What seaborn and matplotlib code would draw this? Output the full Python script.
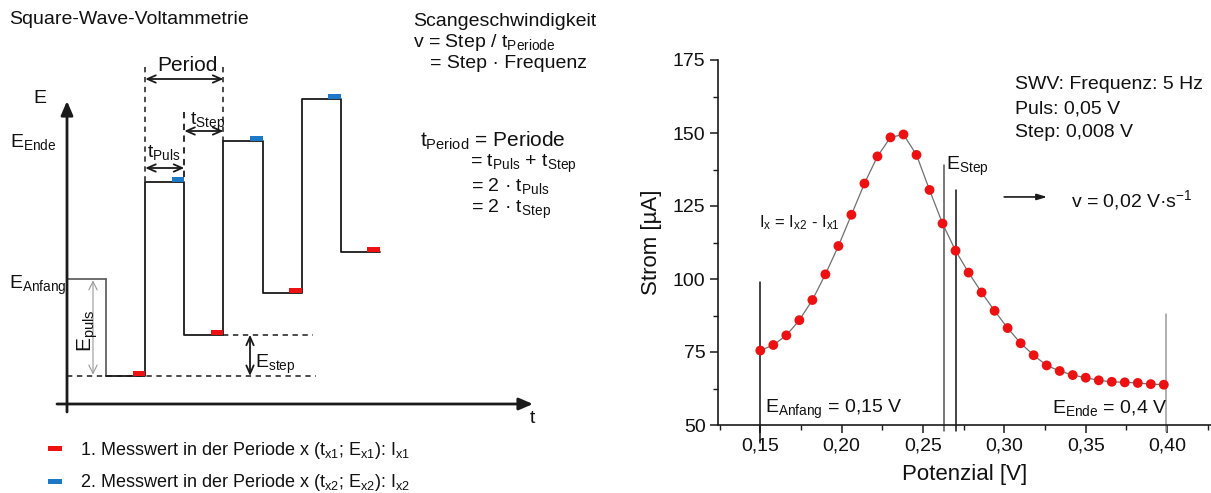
import numpy as np
import pandas as pd
import matplotlib
matplotlib.use("Agg")
import matplotlib.pyplot as plt
from matplotlib.patches import Rectangle
from matplotlib.ticker import MultipleLocator, FixedLocator
import seaborn as sns

# ---------------- right panel: SWV voltammogram ----------------
potential_V = [0.150, 0.158, 0.166, 0.174, 0.182, 0.190, 0.198, 0.206,
               0.214, 0.222, 0.230, 0.238, 0.246, 0.254, 0.262, 0.270,
               0.278, 0.286, 0.294, 0.302, 0.310, 0.318, 0.326, 0.334,
               0.342, 0.350, 0.358, 0.366, 0.374, 0.382, 0.390, 0.398]
current_uA = [75.5, 77.4, 80.7, 85.9, 92.8, 101.6, 111.3, 122.0,
              132.7, 142.0, 148.5, 149.5, 142.5, 130.5, 119.0, 109.7,
              102.2, 95.4, 89.1, 83.2, 78.0, 73.9, 70.4, 68.5,
              67.1, 66.2, 65.3, 64.8, 64.6, 64.4, 64.0, 63.8]
guide_x_V = [0.150, 0.2632, 0.2703, 0.3995]
guide_top_uA = [99.0, 139.0, 130.5, 88.0]
guide_bottom_uA = [44.0, 48.0, 48.0, 48.0]
guide_colors = ['#111111', '#555555', '#111111', '#9a9a9a']
x_ticks = [0.15, 0.20, 0.25, 0.30, 0.35, 0.40]
x_tick_labels = ["0,15", "0,20", "0,25", "0,30", "0,35", "0,40"]
y_ticks = [50, 75, 100, 125, 150, 175]

# ---------------- left panel: schematic square wave ----------------
# time in units of t_Puls, potential in arbitrary units
t_edges = [0, 1, 2, 3, 4, 5, 6, 7, 8]
E_anfang = 3.35
E_low = [1.0, 2.0, 3.0, 4.0]
E_high = [5.7, 6.7, 7.7]

RED = '#ee1111'
BLUE = '#1e78c8'

W, H = 1211, 493
sns.set_theme(style="ticks")
plt.rcParams['font.family'] = ['Liberation Sans', 'DejaVu Sans']
plt.rcParams['mathtext.default'] = 'regular'
plt.rcParams['axes.unicode_minus'] = True

fig = plt.figure(figsize=(W / 100, H / 100), dpi=100)


def fx(px):
    return px / W


def fy(py):
    return 1 - py / H


def T(px):
    return (px - 67) / 39.1


def Ev(py):
    return 1 + (376 - py) / 41.3


def ftext(px, py, s, size=14, **kw):
    kw.setdefault('va', 'baseline')
    kw.setdefault('ha', 'left')
    fig.text(fx(px), fy(py), s, fontsize=size, color='#111111', **kw)


# ---------- left schematic ----------
axl = fig.add_axes([0, 0, 1, 1])
axl.set_xlim(T(0), T(W))
axl.set_ylim(Ev(H), Ev(0))
axl.axis('off')

levels = [E_anfang]
for i, lo in enumerate(E_low):
    levels.append(lo)
    if i < len(E_high):
        levels.append(E_high[i])

dash = (0, (3.5, 3))
# baseline dashed guides
axl.plot([t_edges[0], T(316)], [E_low[0]] * 2, ls=dash, color='k', lw=1.1)
axl.plot([t_edges[4], T(313)], [E_low[1]] * 2, ls=dash, color='k', lw=1.1)
# period guides
axl.plot([t_edges[2]] * 2, [Ev(67), E_high[0]], ls=dash, color='k', lw=1.1)
axl.plot([t_edges[4]] * 2, [Ev(67), E_high[1]], ls=dash, color='k', lw=1.1)
axl.plot([t_edges[3]] * 2, [Ev(112), E_high[0]], ls=dash, color='k', lw=1.3)

# waveform (start segment in grey, rest black)
axl.plot(t_edges[:2], [levels[0]] * 2, color='#555555', lw=1.2)
axl.plot([t_edges[1]] * 2, [levels[0], levels[1]], color='#555555', lw=1.2)
axl.plot(t_edges[1:], levels[1:] + [levels[-1]], drawstyle='steps-post',
         color='k', lw=1.3)

# measurement markers
mw, mh = 0.32, 0.12
for i in range(1, len(levels)):
    c = RED if i % 2 == 1 else BLUE
    axl.add_patch(Rectangle((t_edges[i + 1] - mw, levels[i]), mw, mh,
                            color=c, lw=0, zorder=4))

# axes arrows
arr = dict(arrowstyle='-|>,head_length=0.7,head_width=0.3', lw=2.0, color='k',
           shrinkA=0, shrinkB=0)
axl.annotate('', xy=(0, Ev(101)), xytext=(0, Ev(412)), arrowprops=arr)
axl.annotate('', xy=(T(533), Ev(404)), xytext=(T(57), Ev(404)), arrowprops=arr)

# dimension arrows
darr = dict(arrowstyle='<->,head_length=0.5,head_width=0.22', lw=1.3, color='k',
            shrinkA=0, shrinkB=0)
axl.annotate('', xy=(t_edges[2], Ev(79)), xytext=(t_edges[4], Ev(79)), arrowprops=darr)
axl.annotate('', xy=(t_edges[2], Ev(168)), xytext=(t_edges[3], Ev(168)), arrowprops=darr)
axl.annotate('', xy=(t_edges[3], Ev(131)), xytext=(t_edges[4], Ev(131)), arrowprops=darr)
axl.annotate('', xy=(T(250), E_low[0]), xytext=(T(250), E_low[1]), arrowprops=darr)
garr = dict(arrowstyle='<->,head_length=0.5,head_width=0.25', lw=0.8, color='#999999',
            shrinkA=1, shrinkB=1)
axl.annotate('', xy=(T(93), E_low[0]), xytext=(T(93), E_anfang), arrowprops=garr)

# legend markers
axl.add_patch(Rectangle((T(48), Ev(451)), T(62) - T(48), Ev(446) - Ev(451),
                        color=RED, lw=0))
axl.add_patch(Rectangle((T(48), Ev(484)), T(62) - T(48), Ev(479) - Ev(484),
                        color=BLUE, lw=0))

# left texts
ftext(9, 24, 'Square-Wave-Voltammetrie')
ftext(33, 103, 'E')
ftext(10, 147, 'E$_{Ende}$')
ftext(9, 289, 'E$_{Anfang}$')
fig.text(fx(92), fy(352), 'E$_{puls}$', fontsize=15, rotation=90,
         rotation_mode='anchor', ha='left', va='baseline', color='#111111')
ftext(255, 368, 'E$_{step}$')
ftext(157, 71, 'Period', size=15)
ftext(147, 157, 't$_{Puls}$')
ftext(190, 125, 't$_{Step}$')
ftext(530, 423, 't')

ftext(413, 26, 'Scangeschwindigkeit')
ftext(413, 47, 'v = Step / t$_{Periode}$')
ftext(430, 68, '= Step · Frequenz')
ftext(420, 147, 't$_{Period}$ = Periode', size=15)
ftext(470, 167, '= t$_{Puls}$ + t$_{Step}$')
ftext(471, 191, '= 2 · t$_{Puls}$')
ftext(471, 213, '= 2 · t$_{Step}$')

ftext(80, 455, '1. Messwert in der Periode x (t$_{x1}$; E$_{x1}$): I$_{x1}$', size=13)
ftext(80, 487, '2. Messwert in der Periode x (t$_{x2}$; E$_{x2}$): I$_{x2}$', size=13)

# ---------- right chart ----------
ax = fig.add_axes([fx(718), fy(425), fx(1211) - fx(718), fy(60) - fy(425)])
ax.patch.set_alpha(0)
df = pd.DataFrame({'Potenzial': potential_V, 'Strom': current_uA})
sns.lineplot(data=df, x='Potenzial', y='Strom', ax=ax, color='#707070', lw=0.9,
             zorder=2)
sns.scatterplot(data=df, x='Potenzial', y='Strom', ax=ax, color=RED, s=50,
                edgecolor='none', zorder=3)

for gx, top, bot, c in zip(guide_x_V, guide_top_uA, guide_bottom_uA, guide_colors):
    ax.plot([gx, gx], [bot, top], color=c, lw=1.1, clip_on=False, zorder=1)

ax.set_xlim(0.124, 0.427)
ax.set_ylim(50, 175)
ax.xaxis.set_major_locator(FixedLocator(x_ticks))
ax.set_xticklabels(x_tick_labels)
ax.xaxis.set_minor_locator(MultipleLocator(0.025))
ax.yaxis.set_major_locator(FixedLocator(y_ticks))
ax.yaxis.set_minor_locator(MultipleLocator(12.5))
for s in ['top', 'right']:
    ax.spines[s].set_visible(False)
for s in ['left', 'bottom']:
    ax.spines[s].set_linewidth(1.2)
    ax.spines[s].set_color('k')
ax.tick_params(which='major', direction='out', length=6, width=1.1, labelsize=14,
               color='k', labelcolor='#111111', pad=3)
ax.tick_params(which='minor', direction='out', length=3.5, width=1.0, color='k')
ax.set_xlabel('Potenzial [V]', fontsize=16, labelpad=7, color='#111111')
ax.set_ylabel('Strom [µA]', fontsize=16, labelpad=8, color='#111111')

# right texts
ftext(1015, 89, 'SWV: Frequenz: 5 Hz')
ftext(1015, 113, 'Puls: 0,05 V')
ftext(1015, 137, 'Step: 0,008 V')
ftext(946, 170, 'E$_{Step}$')
ftext(759, 227, 'I$_{x}$ = I$_{x2}$ - I$_{x1}$', size=12)
ftext(1071, 207, 'v = 0,02 V·s$^{-1}$')
ax.annotate('', xy=(0.3263, 128.1), xytext=(0.2999, 128.1),
            arrowprops=dict(arrowstyle='-|>,head_length=0.5,head_width=0.15',
                            lw=1.2, color='k', shrinkA=0, shrinkB=0))
ftext(765, 413, 'E$_{Anfang}$ = 0,15 V')
ftext(1052, 413, 'E$_{Ende}$ = 0,4 V')

fig.savefig('out.png', dpi=100)
